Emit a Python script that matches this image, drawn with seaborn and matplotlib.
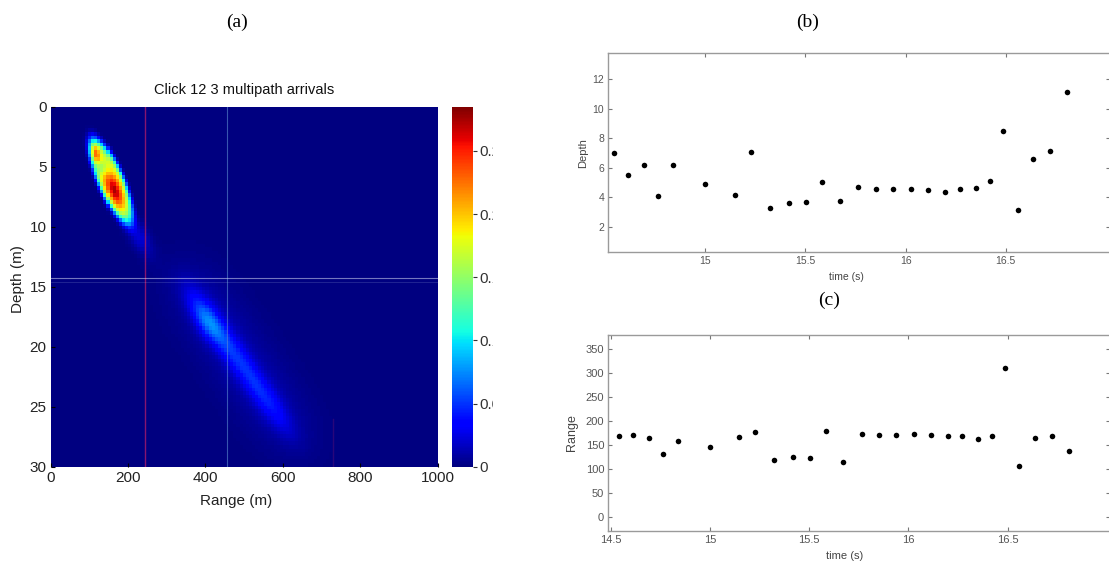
import numpy as np
import pandas as pd
import matplotlib
matplotlib.use("Agg")
import matplotlib.pyplot as plt
from matplotlib.transforms import Bbox, TransformedBbox
import seaborn as sns

# ---------------- data ----------------
click_times = [14.543, 14.613, 14.692, 14.765, 14.838, 14.998, 15.147, 15.229,
               15.325, 15.419, 15.503, 15.583, 15.670, 15.764, 15.851, 15.937,
               16.027, 16.112, 16.197, 16.271, 16.351, 16.420, 16.488, 16.559,
               16.637, 16.722, 16.808]
click_depths = [6.98, 5.51, 6.19, 4.08, 6.17, 4.92, 4.17, 7.07, 3.29, 3.59,
                3.65, 5.05, 3.76, 4.69, 4.54, 4.58, 4.58, 4.49, 4.33, 4.58,
                4.65, 5.10, 8.49, 3.11, 6.59, 7.16, 11.12]
click_ranges = [170, 172, 164, 132, 159, 146, 166, 178, 119, 125, 124, 180,
                114, 174, 171, 172, 173, 172, 170, 168, 163, 168, 310, 107,
                165, 170, 138]

range_ticks = [0, 200, 400, 600, 800, 1000]
depth_ticks = [0, 5, 10, 15, 20, 25, 30]
cbar_ticks = [0, 0.05, 0.10, 0.15, 0.20, 0.25]
cbar_max = 0.285

# ambiguity-surface lobes: (start range, start depth), (end range, end depth),
# half-width in px, amplitude, along-power, across-power, elliptical?
lobes = [
    ((109, 2.7), (203, 9.7), 13, 0.175, 3, 3, True),    # direct arrival envelope
    ((148, 5.6), (180, 8.3), 7, 0.100, 1, 1, True),     # hot core
    ((109, 2.9), (121, 4.7), 5, 0.080, 1, 1, True),     # upper tip
    ((120, 4.5), (140, 5.6), 6, -0.035, 1, 1, True),    # cooler neck between cores
    ((195, 9.0), (255, 12.3), 9, 0.022, 1, 1, True),    # faint tail
    ((362, 15.4), (610, 26.8), 11, 0.038, 2, 1, False), # surface reflection streak
    ((372, 16.3), (440, 19.8), 10, 0.035, 1, 1, True),  # reflection head
    ((330, 13.5), (650, 28.5), 32, 0.012, 2, 1, False), # diffuse halo
]
marker_lines = [(244, "#a0186e", 1.0, 0.85), (455, "#5f8fd0", 0.8, 0.6)]
surface_depth = 14.3

# ---------------- field on a grid ----------------
n_r, n_d = 125, 100
r_step, d_step = 1000 / n_r, 30 / n_d
rc = (np.arange(n_r) + 0.5) * r_step
dc = (np.arange(n_d) + 0.5) * d_step
R, D = np.meshgrid(rc, dc)
PX_R, PX_D = 0.387, 12.0          # screen scaling so lobe widths are isotropic
X, Y = R * PX_R, D * PX_D

field = np.zeros_like(R)
for p0, p1, hw, amp, pa, pt, ell in lobes:
    x0, y0 = p0[0] * PX_R, p0[1] * PX_D
    x1, y1 = p1[0] * PX_R, p1[1] * PX_D
    cx, cy = (x0 + x1) / 2, (y0 + y1) / 2
    L = np.hypot(x1 - x0, y1 - y0) / 2
    ux, uy = (x1 - x0) / (2 * L), (y1 - y0) / (2 * L)
    s = ((X - cx) * ux + (Y - cy) * uy) / L
    t = (-(X - cx) * uy + (Y - cy) * ux) / hw
    if ell:
        field += amp * np.exp(-(s ** 2 + t ** 2) ** pa)
    else:
        field += amp * np.exp(-(s ** 2) ** pa) * np.exp(-(t ** 2) ** pt)
field = np.clip(field, 0, cbar_max)

# ---------------- figure ----------------
plt.rcParams["font.family"] = ["Liberation Sans", "DejaVu Sans"]
W, H = 1109, 565
fig = plt.figure(figsize=(W / 100, H / 100), dpi=100)
fig.patch.set_facecolor("white")

ax_a = fig.add_axes([0.0457, 0.174, 0.349, 0.637])
cax = fig.add_axes([0.4078, 0.174, 0.0184, 0.637])
ax_b = fig.add_axes([0.5485, 0.5535, 0.4524, 0.3522])
ax_c = fig.add_axes([0.5485, 0.0602, 0.4524, 0.3469])

# panel (a): ambiguity surface
sns.heatmap(field, ax=ax_a, cbar_ax=cax, cmap="jet", vmin=0, vmax=cbar_max,
            xticklabels=False, yticklabels=False)
for rng, col, lw, al in marker_lines:
    ax_a.axvline(rng / r_step, color=col, lw=lw, alpha=al)
ax_a.plot([730 / r_step, 730 / r_step], [26 / d_step, 30 / d_step],
          color="#a0186e", lw=1, alpha=0.25)
ax_a.axhline(surface_depth / d_step, color="#e8eeff", lw=0.8, alpha=0.5)
ax_a.axhline((surface_depth + 0.3) / d_step, color="#b8ccf0", lw=0.6, alpha=0.2)

ax_a.set_xticks([r / r_step for r in range_ticks])
ax_a.set_xticklabels([str(r) for r in range_ticks], fontsize=11, color="#222")
ax_a.set_yticks([d / d_step for d in depth_ticks])
ax_a.set_yticklabels([str(d) for d in depth_ticks], fontsize=11, color="#222",
                     rotation=0)
ax_a.tick_params(direction="in", length=3, color="black", pad=3)
ax_a.set_xlabel("Range (m)", fontsize=11, color="#222")
ax_a.xaxis.set_label_coords(0.479, -0.076)
ax_a.set_ylabel("Depth (m)", fontsize=11, color="#222")
ax_a.yaxis.set_label_coords(-0.066, 0.52)
ax_a.set_title("Click 12 3 multipath arrivals", fontsize=10.5, pad=9, color="#111")

cbar = ax_a.collections[0].colorbar
cbar.set_ticks(cbar_ticks)
cbar.set_ticklabels(["0", "0.05", "0.1", "0.15", "0.2", "0.25"])
cax.tick_params(labelsize=11, colors="#333", direction="out", length=3, pad=2)
clip = TransformedBbox(Bbox([[0, 0], [493 / W, 1]]), fig.transFigure)
for tk in cax.yaxis.get_major_ticks():
    for lab in (tk.label1, tk.label2):
        lab.set_clip_on(True)
        lab.set_clip_box(clip)

# panels (b) and (c): tracked depth and range per click
df = pd.DataFrame({"time": click_times, "depth": click_depths, "range": click_ranges})

def style_track(ax):
    for sp in ax.spines.values():
        sp.set_visible(True)
        sp.set_color("#9a9a9a")
        sp.set_linewidth(1.0)
    ax.tick_params(direction="in", length=3, color="#777", top=True, right=True,
                   labelsize=7.5, labelcolor="#555", pad=3)
    ax.set_facecolor("white")

sns.scatterplot(data=df, x="time", y="depth", ax=ax_b, color="black", s=16,
                linewidth=0, legend=False)
ax_b.set_xlim(14.515, 17.021)
ax_b.set_ylim(0.26, 13.76)
ax_b.set_xticks([15, 15.5, 16, 16.5])
ax_b.set_xticklabels(["15", "15.5", "16", "16.5"])
ax_b.set_yticks([2, 4, 6, 8, 10, 12])
style_track(ax_b)
ax_b.set_xlabel("time (s)", fontsize=7.5, color="#444")
ax_b.xaxis.set_label_coords(0.475, -0.099)
ax_b.set_ylabel("Depth", fontsize=8, color="#444")
ax_b.yaxis.set_label_coords(-0.040, 0.5)

sns.scatterplot(data=df, x="time", y="range", ax=ax_c, color="black", s=16,
                linewidth=0, legend=False)
ax_c.set_xlim(14.488, 17.015)
ax_c.set_ylim(-28.5, 379)
ax_c.set_xticks([14.5, 15, 15.5, 16, 16.5])
ax_c.set_xticklabels(["14.5", "15", "15.5", "16", "16.5"])
ax_c.set_yticks([0, 50, 100, 150, 200, 250, 300, 350])
style_track(ax_c)
ax_c.tick_params(labelsize=8)
ax_c.set_xlabel("time (s)", fontsize=8, color="#444")
ax_c.xaxis.set_label_coords(0.472, -0.102)
ax_c.set_ylabel("Range", fontsize=9, color="#444")
ax_c.yaxis.set_label_coords(-0.060, 0.5)

# panel letters
serif = ["Liberation Serif", "DejaVu Serif"]
fig.text(237 / W, 1 - 22 / H, "(a)", family=serif, fontsize=14, ha="center", va="center")
fig.text(808 / W, 1 - 22 / H, "(b)", family=serif, fontsize=14, ha="center", va="center")
fig.text(829 / W, 1 - 300 / H, "(c)", family=serif, fontsize=14, ha="center", va="center")

fig.savefig("out.png", dpi=100, facecolor="white")
